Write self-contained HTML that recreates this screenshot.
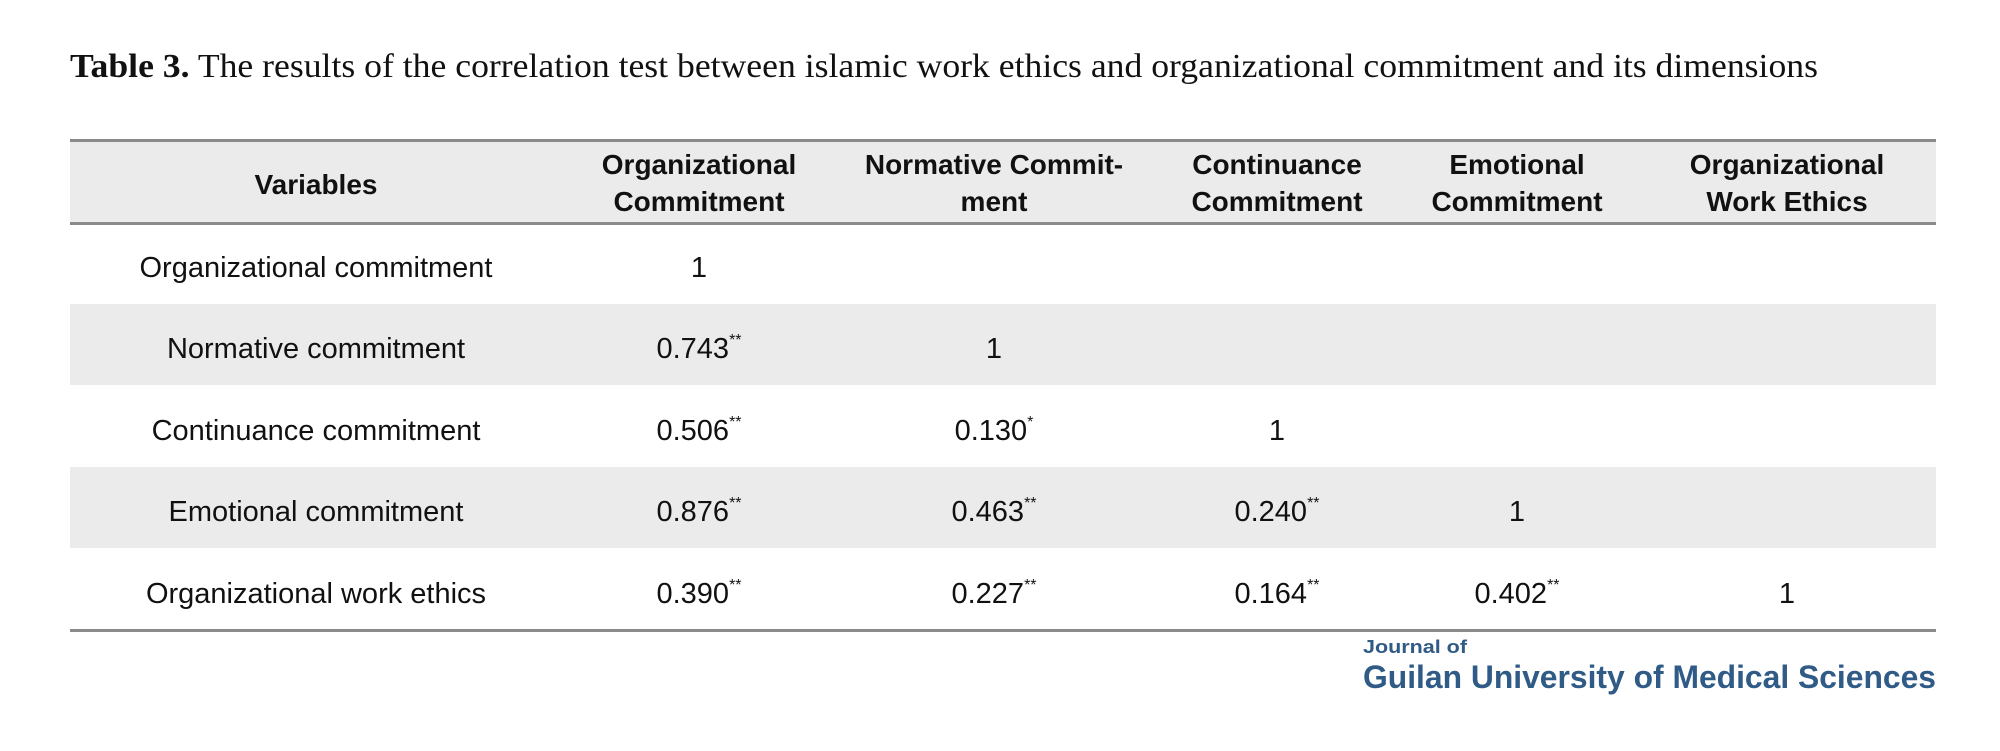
<!DOCTYPE html>
<html><head><meta charset="utf-8"><style>
body{margin:0;background:#fff;}
svg{display:block}
</style></head><body>
<svg width="2000" height="751" viewBox="0 0 2000 751" xmlns="http://www.w3.org/2000/svg">
<rect width="2000" height="751" fill="#fff"/>
<text x="70" y="77" font-family="Liberation Serif, serif" font-size="34" fill="#111" textLength="1748" lengthAdjust="spacingAndGlyphs"><tspan font-weight="bold">Table 3.</tspan> The results of the correlation test between islamic work ethics and organizational commitment and its dimensions</text>
<rect x="70" y="140" width="1866" height="83" fill="#ebebeb"/>
<rect x="70" y="304" width="1866" height="81" fill="#ebebeb"/>
<rect x="70" y="467" width="1866" height="81" fill="#ebebeb"/>
<rect x="70" y="139" width="1866" height="3" fill="#8a8a8a"/>
<rect x="70" y="222" width="1866" height="3" fill="#8a8a8a"/>
<rect x="70" y="629" width="1866" height="3" fill="#8a8a8a"/>
<g font-family="Liberation Sans, DejaVu Sans, sans-serif" font-size="28" font-weight="bold" fill="#111" text-anchor="middle">
<text x="316" y="194">Variables</text>
<text x="699" y="174">Organizational</text><text x="699" y="211">Commitment</text>
<text x="994" y="174">Normative Commit-</text><text x="994" y="211">ment</text>
<text x="1277" y="174">Continuance</text><text x="1277" y="211">Commitment</text>
<text x="1517" y="174">Emotional</text><text x="1517" y="211">Commitment</text>
<text x="1787" y="174">Organizational</text><text x="1787" y="211">Work Ethics</text>
</g>
<g font-family="Liberation Sans, DejaVu Sans, sans-serif" font-size="29" fill="#111" text-anchor="middle">
<text x="316" y="277">Organizational commitment</text>
<text x="699" y="277">1</text>
<text x="316" y="358">Normative commitment</text>
<text x="699" y="358">0.743<tspan font-size="16" dy="-13">**</tspan></text>
<text x="994" y="358">1</text>
<text x="316" y="440">Continuance commitment</text>
<text x="699" y="440">0.506<tspan font-size="16" dy="-13">**</tspan></text>
<text x="994" y="440">0.130<tspan font-size="16" dy="-13">*</tspan></text>
<text x="1277" y="440">1</text>
<text x="316" y="521">Emotional commitment</text>
<text x="699" y="521">0.876<tspan font-size="16" dy="-13">**</tspan></text>
<text x="994" y="521">0.463<tspan font-size="16" dy="-13">**</tspan></text>
<text x="1277" y="521">0.240<tspan font-size="16" dy="-13">**</tspan></text>
<text x="1517" y="521">1</text>
<text x="316" y="603">Organizational work ethics</text>
<text x="699" y="603">0.390<tspan font-size="16" dy="-13">**</tspan></text>
<text x="994" y="603">0.227<tspan font-size="16" dy="-13">**</tspan></text>
<text x="1277" y="603">0.164<tspan font-size="16" dy="-13">**</tspan></text>
<text x="1517" y="603">0.402<tspan font-size="16" dy="-13">**</tspan></text>
<text x="1787" y="603">1</text>
</g>
<g font-family="Liberation Sans, DejaVu Sans, sans-serif" font-weight="bold" fill="#2f5b86">
<text x="1363" y="653" font-size="18" textLength="104" lengthAdjust="spacingAndGlyphs">Journal of</text>
<text x="1363" y="688" font-size="32" textLength="573" lengthAdjust="spacingAndGlyphs">Guilan University of Medical Sciences</text>
</g>
</svg>
</body></html>
